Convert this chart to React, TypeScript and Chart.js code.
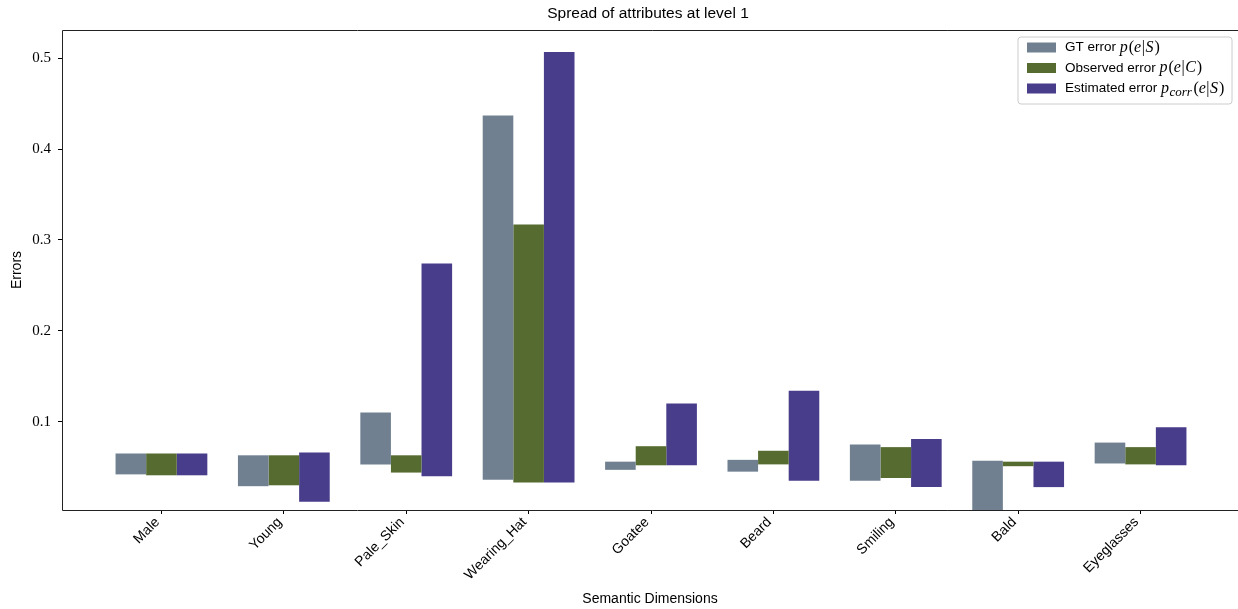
import React, { useEffect, useRef } from "react";
import { Chart, registerables } from "chart.js";

Chart.register(...registerables);

const categories = ["Male", "Young", "Pale_Skin", "Wearing_Hat", "Goatee", "Beard", "Smiling", "Bald", "Eyeglasses"];
const gtLow = [0.042, 0.029, 0.053, 0.036, 0.047, 0.045, 0.035, 0.0, 0.054];
const gtHigh = [0.065, 0.063, 0.110, 0.437, 0.056, 0.058, 0.075, 0.057, 0.077];
const obsLow = [0.041, 0.030, 0.044, 0.033, 0.052, 0.053, 0.038, 0.051, 0.053];
const obsHigh = [0.065, 0.063, 0.063, 0.317, 0.073, 0.068, 0.072, 0.056, 0.072];
const estLow = [0.041, 0.012, 0.040, 0.033, 0.052, 0.035, 0.028, 0.028, 0.052];
const estHigh = [0.065, 0.066, 0.274, 0.507, 0.120, 0.134, 0.081, 0.056, 0.094];
const yTicks = [0.1, 0.2, 0.3, 0.4, 0.5];

const GT_COLOR = "#708090";
const OBS_COLOR = "#556B2F";
const EST_COLOR = "#483D8B";

const SANS = "'Liberation Sans', Arial, sans-serif";
const SERIF = "'Liberation Serif', 'Times New Roman', serif";

type Seg = { t: string; f: string; dy?: number; dx?: number };

function drawMixed(ctx: CanvasRenderingContext2D, segs: Seg[], x: number, y: number) {
  let cx = x;
  for (const s of segs) {
    ctx.font = s.f;
    cx += s.dx || 0;
    ctx.fillText(s.t, cx, y + (s.dy || 0));
    cx += ctx.measureText(s.t).width;
  }
}

const mathIt = `italic 16px ${SERIF}`;
const mathUp = `16px ${SERIF}`;
const txt = `13.5px ${SANS}`;

const legendItems: { color: string; segs: Seg[] }[] = [
  {
    color: GT_COLOR,
    segs: [
      { t: "GT error ", f: txt },
      { t: "p", f: mathIt },
      { t: "(", f: mathUp, dx: 1 },
      { t: "e", f: mathIt },
      { t: "|", f: mathUp, dx: 0.5 },
      { t: "S", f: mathIt, dx: 0.5 },
      { t: ")", f: mathUp, dx: 1 },
    ],
  },
  {
    color: OBS_COLOR,
    segs: [
      { t: "Observed error ", f: txt },
      { t: "p", f: mathIt },
      { t: "(", f: mathUp, dx: 1 },
      { t: "e", f: mathIt },
      { t: "|", f: mathUp, dx: 0.5 },
      { t: "C", f: mathIt, dx: 0.5 },
      { t: ")", f: mathUp, dx: 1 },
    ],
  },
  {
    color: EST_COLOR,
    segs: [
      { t: "Estimated error ", f: txt },
      { t: "p", f: mathIt },
      { t: "corr", f: `italic 13px ${SERIF}`, dy: 4, dx: 0.5 },
      { t: "(", f: mathUp, dx: 1.5 },
      { t: "e", f: mathIt },
      { t: "|", f: mathUp, dx: 0.5 },
      { t: "S", f: mathIt, dx: 0.5 },
      { t: ")", f: mathUp, dx: 1 },
    ],
  },
];

const decorPlugin = {
  id: "decor",
  afterDraw(chart: any) {
    const ctx: CanvasRenderingContext2D = chart.ctx;
    const a = chart.chartArea;
    ctx.save();
    // clean right strip (the right spine lies outside the visible frame)
    ctx.fillStyle = "#fff";
    ctx.fillRect(1234, 0, chart.width - 1234 + 10, chart.height);
    ctx.strokeStyle = "#222";
    ctx.lineWidth = 1;
    const L = Math.round(a.left) + 0.5;
    const T = Math.round(a.top) + 0.5;
    const B = Math.round(a.bottom) + 0.5;
    const R = chart.width + 2;
    ctx.beginPath();
    ctx.moveTo(R, T);
    ctx.lineTo(L, T);
    ctx.lineTo(L, B);
    ctx.lineTo(R, B);
    ctx.stroke();
    ctx.fillStyle = "#000";
    ctx.textBaseline = "middle";
    ctx.textAlign = "center";
    const cx = 650;
    ctx.font = `15.5px ${SANS}`;
    ctx.fillText("Spread of attributes at level 1", cx - 2, 14);
    ctx.font = `14px ${SANS}`;
    ctx.fillText("Semantic Dimensions", cx, 599);
    ctx.save();
    ctx.translate(17, (a.top + a.bottom) / 2);
    ctx.rotate(-Math.PI / 2);
    ctx.fillText("Errors", 0, 0);
    ctx.restore();
    const bx = 1018, by = 37, bw = 214, bh = 67, r = 3;
    ctx.beginPath();
    ctx.moveTo(bx + r, by);
    ctx.lineTo(bx + bw - r, by);
    ctx.arcTo(bx + bw, by, bx + bw, by + r, r);
    ctx.lineTo(bx + bw, by + bh - r);
    ctx.arcTo(bx + bw, by + bh, bx + bw - r, by + bh, r);
    ctx.lineTo(bx + r, by + bh);
    ctx.arcTo(bx, by + bh, bx, by + bh - r, r);
    ctx.lineTo(bx, by + r);
    ctx.arcTo(bx, by, bx + r, by, r);
    ctx.closePath();
    ctx.fillStyle = "rgba(255,255,255,0.8)";
    ctx.fill();
    ctx.strokeStyle = "#cccccc";
    ctx.stroke();
    const rows = [47.5, 68, 88.5];
    ctx.textAlign = "left";
    ctx.textBaseline = "middle";
    legendItems.forEach((it, i) => {
      ctx.fillStyle = it.color;
      ctx.fillRect(1027, rows[i] - 5, 29, 10);
      ctx.fillStyle = "#000";
      drawMixed(ctx, it.segs, 1065, rows[i]);
    });
    ctx.restore();
  },
};

function toPairs(lo: number[], hi: number[]) {
  return lo.map((l, i) => ({ x: i, y: [l, hi[i]] }));
}

export default function App() {
  const ref = useRef<HTMLCanvasElement>(null);
  useEffect(() => {
    if (!ref.current) return;
    const chart = new Chart(ref.current, {
      type: "bar",
      data: {
        datasets: [
          { label: "GT error", data: toPairs(gtLow, gtHigh) as any, backgroundColor: GT_COLOR, borderWidth: 0 },
          { label: "Observed error", data: toPairs(obsLow, obsHigh) as any, backgroundColor: OBS_COLOR, borderWidth: 0 },
          { label: "Estimated error", data: toPairs(estLow, estHigh) as any, backgroundColor: EST_COLOR, borderWidth: 0 },
        ],
      },
      options: {
        animation: false,
        responsive: false,
        devicePixelRatio: 1,
        layout: { padding: { left: 0, right: 2, top: 30, bottom: 0 } },
        datasets: { bar: { categoryPercentage: 0.75, barPercentage: 1 } } as any,
        plugins: { legend: { display: false }, tooltip: { enabled: false }, title: { display: false } },
        scales: {
          x: {
            type: "linear",
            min: -0.8125,
            max: 8.8125,
            offset: false,
            grid: { drawOnChartArea: false, drawTicks: true, tickLength: 4, color: "#000", offset: false },
            border: { display: false },
            afterBuildTicks: (axis: any) => {
              axis.ticks = categories.map((_, i) => ({ value: i }));
            },
            afterFit: (axis: any) => {
              axis.height = 99;
              axis.paddingLeft = 0;
              axis.paddingRight = 0;
            },
            ticks: {
              autoSkip: false,
              minRotation: 45,
              maxRotation: 45,
              padding: 0,
              labelOffset: -4,
              color: "#000",
              font: { family: SANS, size: 14 },
              callback: (v: any) => categories[v as number] ?? "",
            },
          },
          y: {
            type: "linear",
            min: 0.0028,
            max: 0.5311,
            grid: { drawOnChartArea: false, drawTicks: true, tickLength: 4, color: "#000" },
            border: { display: false },
            afterBuildTicks: (axis: any) => {
              axis.ticks = yTicks.map((v) => ({ value: v }));
            },
            afterFit: (axis: any) => {
              axis.width = 62;
              axis.paddingTop = 0;
              axis.paddingBottom = 0;
            },
            ticks: {
              padding: 7,
              color: "#000",
              font: { family: SERIF, size: 15 },
              callback: (v: any) => Number(v).toFixed(1),
            },
          },
        },
      },
      plugins: [decorPlugin],
    });
    return () => chart.destroy();
  }, []);
  return (
    <div style={{ position: "fixed", left: 0, top: 0, width: 1238, height: 609, overflow: "hidden", background: "#fff" }}>
      <canvas ref={ref} width={1242} height={609} style={{ display: "block", width: 1242, height: 609 }} />
    </div>
  );
}
